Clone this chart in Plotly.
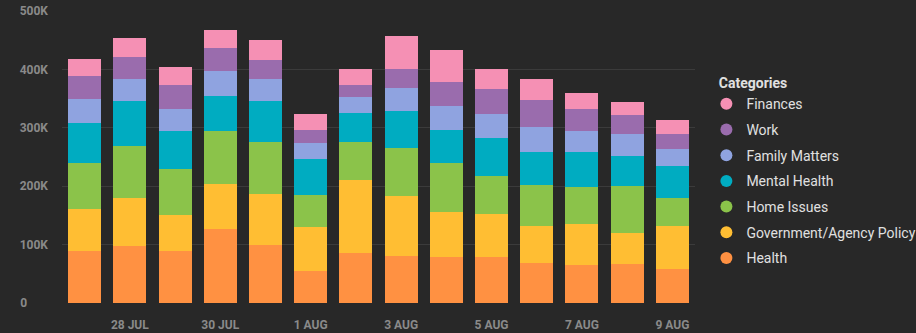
import plotly.graph_objects as go

dates = ["2023-07-27", "2023-07-28", "2023-07-29", "2023-07-30", "2023-07-31",
         "2023-08-01", "2023-08-02", "2023-08-03", "2023-08-04", "2023-08-05",
         "2023-08-06", "2023-08-07", "2023-08-08", "2023-08-09"]

health = [89, 98, 89, 126, 100, 54, 86, 81, 78, 78, 68, 65, 66, 59]
government = [72, 82, 62, 78, 86, 76, 124, 103, 77, 75, 64, 70, 54, 73]
home_issues = [79, 88, 78, 91, 89, 55, 66, 82, 84, 64, 70, 64, 80, 47]
mental_health = [68, 78, 66, 60, 71, 62, 50, 63, 57, 66, 57, 59, 51, 55]
family_matters = [41, 38, 37, 42, 37, 27, 26, 40, 41, 41, 43, 36, 38, 29]
work = [40, 37, 42, 40, 33, 23, 21, 31, 41, 43, 45, 39, 33, 27]
finances = [29, 33, 30, 31, 35, 27, 27, 57, 55, 33, 37, 27, 22, 24]

series_names = ["Health", "Government/Agency Policy", "Home Issues", "Mental Health",
                "Family Matters", "Work", "Finances"]
series_values = [health, government, home_issues, mental_health, family_matters, work, finances]
colors = ["#ff9142", "#ffbe33", "#8bc34a", "#00acc1", "#8fa3e0", "#9a6cad", "#f590b4"]

x_tick_vals = ["2023-07-28", "2023-07-30", "2023-08-01", "2023-08-03",
               "2023-08-05", "2023-08-07", "2023-08-09"]
x_tick_text = ["28 JUL", "30 JUL", "1 AUG", "3 AUG", "5 AUG", "7 AUG", "9 AUG"]
y_tick_vals = [0, 100000, 200000, 300000, 400000, 500000]
y_tick_text = ["0", "100K", "200K", "300K", "400K", "500K"]

# left-align y tick labels by padding shorter labels with non-breaking spaces
NBSP = "\u00a0"
y_tick_disp = [t + NBSP * 7 if len(t) == 1 else t for t in y_tick_text]

fig = go.Figure()
for name, vals, col in zip(series_names, series_values, colors):
    fig.add_trace(go.Bar(x=dates, y=[v * 1000 for v in vals], name=name,
                         marker=dict(color=col, line=dict(width=0)),
                         showlegend=False))
# legend entries (circle symbols), top-to-bottom order
for name, col in zip(series_names[::-1], colors[::-1]):
    fig.add_trace(go.Scatter(x=[None], y=[None], mode="markers", name=name,
                             legendgroup=name,
                             marker=dict(color=col, size=14, symbol="circle"),
                             showlegend=True))

tick_font = dict(size=12, color="#8a8a8a", family="Roboto, sans-serif", weight="bold")

fig.update_layout(
    width=916, height=333,
    paper_bgcolor="#282828", plot_bgcolor="#282828",
    barmode="stack", bargap=0.27,
    margin=dict(l=62, r=221, t=11, b=30, autoexpand=False),
    font=dict(family="Roboto, sans-serif", color="#8a8a8a"),
    xaxis=dict(type="date",
               range=["2023-07-26 12:00", "2023-08-09 12:00"],
               tickvals=x_tick_vals, ticktext=x_tick_text,
               tickfont=tick_font, ticklabelstandoff=13, automargin=False,
               showgrid=False, zeroline=False, showline=False, ticks=""),
    yaxis=dict(range=[0, 500000],
               tickvals=y_tick_vals, ticktext=y_tick_disp,
               tickfont=tick_font, ticklabelstandoff=13, automargin=False,
               showgrid=True, gridcolor="#3b3b3b", gridwidth=1,
               zeroline=False, showline=False, ticks=""),
    legend=dict(title=dict(text=NBSP * 3 + "<b>Categories</b>", font=dict(size=14, color="#e0e0e0")),
                font=dict(size=14, color="#e0e0e0"),
                traceorder="grouped", tracegroupgap=4.5,
                x=1.018, xanchor="left", y=0.798, yanchor="top",
                bgcolor="rgba(0,0,0,0)", itemsizing="constant"),
)

fig.write_html("out.html", config={"displayModeBar": False},
               post_script="document.body.style.margin='0';")
